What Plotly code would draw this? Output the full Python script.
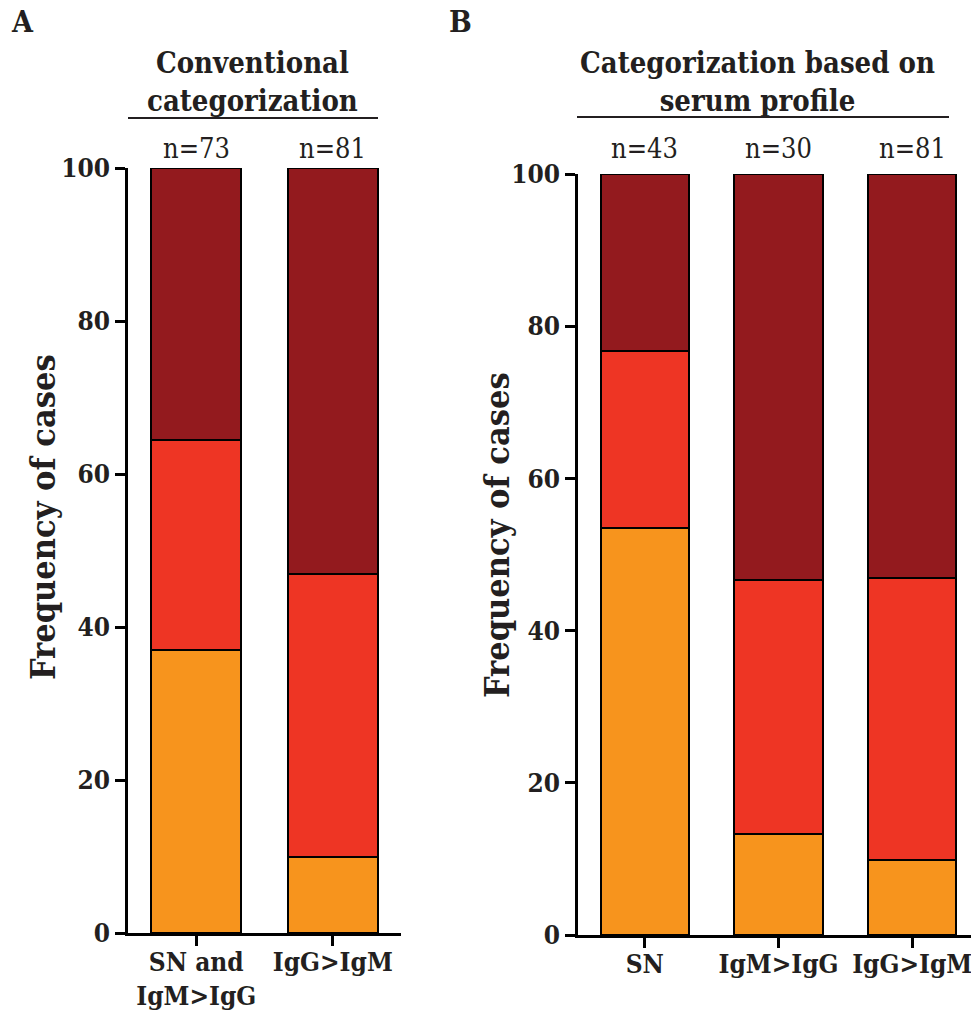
import plotly.graph_objects as go

# ---- data ----
cats_a = ["SN and<br>IgM>IgG", "IgG>IgM"]
n_a = [73, 81]
a_orange = [37.0, 9.9]
a_red = [27.4, 37.0]
a_dark = [35.6, 53.1]

cats_b = ["SN", "IgM>IgG", "IgG>IgM"]
n_b = [43, 30, 81]
b_orange = [53.5, 13.3, 9.9]
b_red = [23.3, 33.4, 37.0]
b_dark = [23.2, 53.3, 53.1]

y_ticks = [0, 20, 40, 60, 80, 100]

W, H = 971, 1013
FONT = "DejaVu Serif Condensed"
TXT = "#231F20"
COL_OR = "#F7941D"
COL_RED = "#EE3524"
COL_DARK = "#931A1E"

def px_x(p):
    return p / W

def px_y(p):
    return 1 - p / H

fig = go.Figure()

def add_bars(cats, o, r, d, xa, ya):
    for vals, col in [(o, COL_OR), (r, COL_RED), (d, COL_DARK)]:
        fig.add_trace(go.Bar(
            x=cats, y=vals, xaxis=xa, yaxis=ya,
            marker=dict(color=col, line=dict(color="black", width=2)),
            width=0.66, showlegend=False, hoverinfo="skip"))

add_bars(cats_a, a_orange, a_red, a_dark, "x", "y")
add_bars(cats_b, b_orange, b_red, b_dark, "x2", "y2")

axis_common = dict(showgrid=False, zeroline=False, showline=True,
                   linecolor="black", linewidth=2.5, automargin=False,
                   ticks="outside", ticklen=10, tickwidth=2.5, tickcolor="black",
                   tickfont=dict(family=FONT, size=26, color=TXT, weight="bold"))

fig.update_layout(
    width=W, height=H, margin=dict(l=0, r=0, t=0, b=0, autoexpand=False),
    plot_bgcolor="white", paper_bgcolor="white",
    barmode="stack",
    font=dict(family=FONT, color=TXT),
    xaxis=dict(domain=[px_x(128), px_x(401)], range=[-0.5, 1.5],
               anchor="y", ticklabelstandoff=-6, **axis_common),
    yaxis=dict(domain=[px_y(933), px_y(168)], range=[0, 100],
               tickvals=y_ticks, anchor="x", **axis_common),
    xaxis2=dict(domain=[px_x(578), 1.0], range=[-0.5, 2.44],
                anchor="y2", ticklabelstandoff=-6, **axis_common),
    yaxis2=dict(domain=[px_y(935), px_y(174)], range=[0, 100],
                tickvals=y_ticks, anchor="x2", **axis_common),
)

ann = []
# y axis titles
ann.append(dict(text="<b>Frequency of cases</b>", x=px_x(43), y=px_y(517),
                xref="paper", yref="paper", xanchor="center", yanchor="middle",
                textangle=-90, showarrow=False,
                font=dict(family=FONT, size=34, color=TXT)))
ann.append(dict(text="<b>Frequency of cases</b>", x=px_x(497), y=px_y(535),
                xref="paper", yref="paper", xanchor="center", yanchor="middle",
                textangle=-90, showarrow=False,
                font=dict(family=FONT, size=34, color=TXT)))
# panel letters
ann.append(dict(text="<b>A</b>", x=px_x(22), y=px_y(22), xref="paper", yref="paper",
                xanchor="center", yanchor="middle", showarrow=False,
                font=dict(family=FONT, size=30, color=TXT)))
ann.append(dict(text="<b>B</b>", x=px_x(460), y=px_y(22), xref="paper", yref="paper",
                xanchor="center", yanchor="middle", showarrow=False,
                font=dict(family=FONT, size=30, color=TXT)))
# group titles
ann.append(dict(text="<b>Conventional<br>categorization</b>", x=px_x(252), y=px_y(82),
                xref="paper", yref="paper", xanchor="center", yanchor="middle",
                showarrow=False, align="center",
                font=dict(family=FONT, size=29, color=TXT)))
ann.append(dict(text="<b>Categorization based on<br>serum profile</b>", x=px_x(757), y=px_y(82),
                xref="paper", yref="paper", xanchor="center", yanchor="middle",
                showarrow=False, align="center",
                font=dict(family=FONT, size=29, color=TXT)))
# n labels
for c, n in zip(cats_a, n_a):
    ann.append(dict(text=f"n={n}", x=c, y=100, xref="x", yref="y",
                    xanchor="center", yanchor="bottom", yshift=2, showarrow=False,
                    font=dict(family=FONT, size=27, color=TXT)))
for c, n in zip(cats_b, n_b):
    ann.append(dict(text=f"n={n}", x=c, y=100, xref="x2", yref="y2",
                    xanchor="center", yanchor="bottom", yshift=8, showarrow=False,
                    font=dict(family=FONT, size=27, color=TXT)))
fig.update_layout(annotations=ann)

# underline bars under group titles
fig.add_shape(type="line", xref="paper", yref="paper",
              x0=px_x(128), x1=px_x(378), y0=px_y(118), y1=px_y(118),
              line=dict(color=TXT, width=2))
fig.add_shape(type="line", xref="paper", yref="paper",
              x0=px_x(577), x1=px_x(949), y0=px_y(117), y1=px_y(117),
              line=dict(color=TXT, width=2))

fig.write_html("out.html")
